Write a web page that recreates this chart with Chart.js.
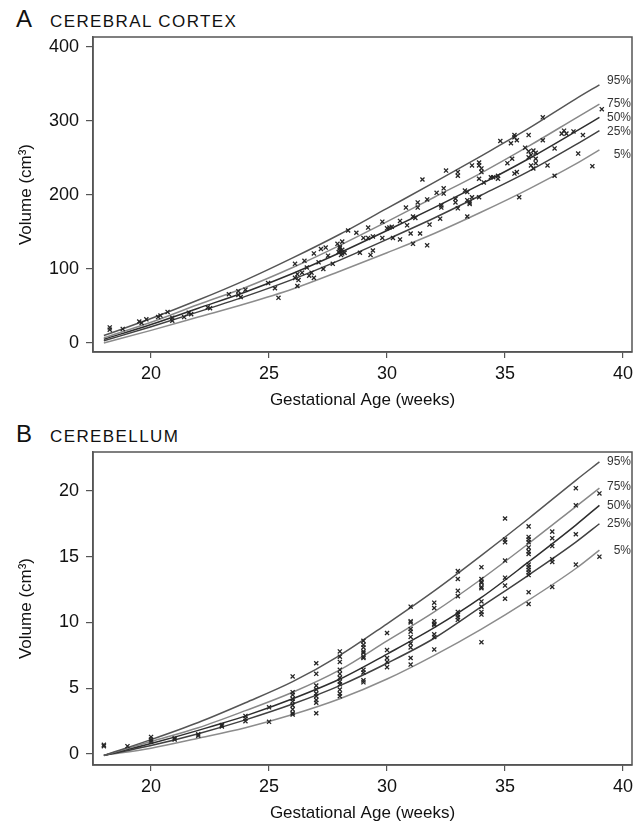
<!DOCTYPE html>
<html>
<head>
<meta charset="utf-8">
<script src="https://cdn.jsdelivr.net/npm/chart.js@4.4.1/dist/chart.umd.min.js"></script>
<style>
  html, body { margin: 0; padding: 0; background: #fff; }
  body { width: 642px; height: 825px; position: relative; overflow: hidden; font-family: "Liberation Sans", Arial, sans-serif; color: #111; }
  canvas { position: absolute; left: 0; }
  .lbl { position: absolute; white-space: nowrap; line-height: 1; }
  .big { font-size: 24px; }
  .sub { font-size: 17px; letter-spacing: 1.4px; }
</style>
</head>
<body>
<div class="lbl big" style="left:16px;top:7px;">A</div>
<div class="lbl sub" style="left:50px;top:13px;">CEREBRAL CORTEX</div>
<canvas id="cA" width="642" height="412" style="top:0"></canvas>
<div class="lbl big" style="left:16px;top:422px;">B</div>
<div class="lbl sub" style="left:50px;top:428px;">CEREBELLUM</div>
<canvas id="cB" width="642" height="413" style="top:412px"></canvas>
<script>
// ---------- shared ----------
const xTicks = [20, 25, 30, 35, 40];
const curveWeeks = [18, 20, 22, 24, 26, 28, 30, 32, 34, 36, 38, 39];
const pctNames = ["95%", "75%", "50%", "25%", "5%"];

// ---------- Panel A: cerebral cortex ----------
const yTicksA = [0, 100, 200, 300, 400];
const cortexP95 = [10, 33, 58, 85, 115, 147, 182, 217, 253, 290, 330, 349];
const cortexP75 = [7, 28, 52, 75, 102, 132, 164, 197, 230, 266, 304, 323];
const cortexP50 = [5, 25, 47, 69, 94, 122, 152, 183, 215, 249, 286, 305];
const cortexP25 = [3, 22, 42, 63, 86, 112, 140, 169, 200, 232, 268, 287];
const cortexP5  = [0, 17, 35, 53, 73, 97, 122, 148, 177, 208, 242, 261];
const cortexLabelY = [355, 324, 305, 285, 255];
const cortexWeeks = [
  18.25, 18.25, 18.8, 19.5, 19.6, 19.8, 20.3, 20.4, 20.7, 20.9, 20.9, 21.4, 21.6, 21.7, 22.4, 22.5,
  23.3, 23.7, 23.7, 23.8, 24.0, 24.96, 25.25, 25.4, 26.1, 26.1, 26.2, 26.2, 26.25, 26.4, 26.5, 26.6,
  26.7, 26.8, 26.9, 26.9, 27.1, 27.2, 27.4, 27.3, 27.5, 27.7, 27.9, 28.0, 28.0, 28.1, 28.0, 28.1,
  28.2, 27.95, 28.05, 28.1, 28.35, 28.7, 28.85, 29.0, 29.2, 29.4, 29.2, 29.3, 29.4, 29.8, 29.8, 30.0,
  30.1, 30.2, 30.25, 30.55, 30.55, 30.8, 30.85, 31.0, 31.1, 31.2, 31.1, 31.3, 31.3, 31.4, 31.5, 31.7,
  31.7, 31.8, 32.1, 32.25, 32.4, 32.4, 32.3, 32.3, 32.5, 33.0, 33.0, 32.9, 32.9, 33.0, 33.3, 33.4,
  33.4, 33.5, 33.5, 33.4, 33.6, 33.6, 33.9, 33.9, 33.9, 34.1, 34.0, 34.0, 33.9, 34.4, 34.5, 34.7,
  34.7, 34.8, 35.1, 35.3, 35.4, 35.4, 35.25, 35.5, 35.4, 35.5, 35.6, 35.85, 36.0, 36.0, 36.1, 36.2,
  36.3, 36.0, 36.1, 36.2, 36.3, 36.3, 36.6, 36.6, 36.8, 37.1, 37.1, 37.4, 37.5, 37.6, 37.9, 38.1,
  38.3, 38.7, 39.1
];
const cortexVolumes = [
  21, 18, 19, 29, 27, 32, 35, 37, 42, 34, 30, 35, 41, 39, 48, 47,
  66, 70, 65, 62, 72, 81, 74, 61, 107, 88, 93, 77, 85, 95, 111, 102,
  91, 95, 121, 88, 109, 127, 129, 100, 118, 107, 134, 125, 130, 137, 128, 121,
  122, 123, 119, 126, 152, 149, 122, 142, 142, 144, 156, 119, 125, 164, 142, 155,
  156, 157, 142, 165, 140, 183, 159, 148, 171, 169, 134, 190, 183, 148, 221, 194,
  132, 160, 203, 168, 209, 202, 186, 183, 233, 231, 226, 195, 190, 182, 206, 204,
  193, 190, 188, 171, 240, 197, 244, 240, 222, 217, 236, 231, 197, 224, 224, 226,
  222, 273, 243, 249, 281, 278, 270, 274, 229, 231, 197, 264, 259, 251, 254, 260,
  257, 281, 240, 236, 249, 243, 305, 274, 240, 263, 226, 283, 287, 283, 286, 256,
  281, 239, 316
];

// ---------- Panel B: cerebellum ----------
const yTicksB = [0, 5, 10, 15, 20];
const cerebP95 = [-0.1, 1.1, 2.4, 3.9, 5.5, 7.5, 9.9, 12.4, 15.1, 17.9, 20.8, 22.2];
const cerebP75 = [-0.1, 0.95, 2.0, 3.3, 4.7, 6.4, 8.6, 10.8, 13.3, 16.0, 18.8, 20.2];
const cerebP50 = [-0.1, 0.8, 1.8, 2.9, 4.2, 5.7, 7.6, 9.6, 11.9, 14.6, 17.4, 18.9];
const cerebP25 = [-0.1, 0.65, 1.55, 2.6, 3.8, 5.2, 6.9, 8.8, 11.2, 13.6, 16.1, 17.5];
const cerebP5  = [-0.1, 0.45, 1.2, 2.0, 3.0, 4.2, 5.7, 7.5, 9.5, 11.7, 14.1, 15.5];
const cerebLabelY = [22.2, 20.3, 18.9, 17.5, 15.45];
const cerebWeeks = [
  18, 18, 19, 20, 20, 20, 21, 21, 22, 22, 23, 23, 24, 24, 24, 25, 25,
  26, 26, 26, 26, 26, 26, 26, 26, 26,
  27, 27, 27, 27, 27, 27, 27, 27, 27,
  28, 28, 28, 28, 28, 28, 28, 28, 28, 28, 28,
  29, 29, 29, 29, 29, 29, 29, 29, 29, 29, 29,
  30, 30, 30, 30, 30,
  31, 31, 31, 31, 31, 31, 31, 31, 31, 31,
  32, 32, 32, 32, 32, 32, 32, 32,
  33, 33, 33, 33, 33, 33, 33, 33,
  34, 34, 34, 34, 34, 34, 34, 34, 34, 34, 34,
  35, 35, 35, 35, 35, 35, 35,
  36, 36, 36, 36, 36, 36, 36, 36, 36, 36, 36, 36, 36, 36,
  37, 37, 37, 37, 37, 37,
  38, 38, 38, 38,
  39, 39
];
const cerebVolumes = [
  0.7, 0.6, 0.6, 1.3, 1.1, 0.95, 1.2, 1.1, 1.5, 1.4, 2.2, 2.1, 2.9, 2.7, 2.5, 3.55, 2.45,
  5.9, 4.7, 4.5, 4.2, 4.0, 3.7, 3.4, 3.1, 3.0,
  6.9, 6.1, 5.2, 4.9, 4.6, 4.4, 4.1, 3.9, 3.1,
  7.8, 7.4, 7.0, 6.4, 6.1, 5.8, 5.5, 5.3, 4.9, 4.6, 4.4,
  8.6, 8.3, 8.1, 7.8, 7.7, 7.4, 7.3, 6.4, 6.2, 5.6, 5.45,
  9.2, 7.9, 7.3, 7.0, 6.6,
  11.2, 10.1, 10.0, 9.5, 9.3, 8.9, 8.4, 8.1, 7.3, 6.8,
  11.5, 11.1, 10.1, 9.9, 9.8, 9.1, 8.9, 7.95,
  13.9, 13.3, 12.4, 12.0, 10.8, 10.6, 10.4, 10.2,
  14.2, 13.3, 13.1, 13.0, 12.7, 12.6, 11.6, 11.2, 10.8, 10.6, 8.5,
  17.9, 16.3, 16.1, 14.7, 13.4, 12.8, 11.8,
  17.3, 16.5, 16.3, 16.1, 15.7, 15.4, 15.2, 14.4, 14.2, 14.0, 13.8, 13.6, 12.3, 11.4,
  16.9, 16.4, 15.8, 14.8, 14.6, 12.7,
  20.2, 18.9, 16.7, 14.4,
  19.8, 15.0
];

// ---------- builder ----------
const FONT = "'Liberation Sans', Arial, Helvetica, sans-serif";
const lineColors = ["#555555", "#888888", "#2e2e2e", "#404040", "#8c8c8c"];

function buildChart(id, curves, weeks, vols, yTicks, yMin, yMax, labelY, topPad) {
  const datasets = curves.map((c, i) => ({
    type: 'scatter',
    label: pctNames[i],
    data: curveWeeks.map((w, k) => ({ x: w, y: c[k] })),
    showLine: true,
    borderColor: lineColors[i],
    borderWidth: 1.5,
    pointRadius: 0,
    cubicInterpolationMode: 'monotone',
    fill: false,
    order: 2
  }));
  datasets.push({
    type: 'scatter',
    label: 'data',
    data: weeks.map((w, k) => ({ x: w, y: vols[k] })),
    pointStyle: 'crossRot',
    pointRadius: 2.9,
    borderColor: '#262626',
    borderWidth: 1.3,
    backgroundColor: '#262626',
    order: 1
  });
  const frame = {
    id: 'frame',
    afterDraw(chart) {
      const { ctx, chartArea: a } = chart;
      ctx.save();
      ctx.strokeStyle = '#555';
      ctx.lineWidth = 1.5;
      ctx.strokeRect(a.left, a.top, a.right - a.left, a.bottom - a.top);
      ctx.font = '12px ' + FONT;
      ctx.fillStyle = '#333';
      ctx.textAlign = 'right';
      ctx.textBaseline = 'middle';
      const ys = chart.scales.y;
      labelY.forEach((v, i) => ctx.fillText(pctNames[i], a.right - 1, ys.getPixelForValue(v)));
      ctx.restore();
    }
  };
  return new Chart(document.getElementById(id), {
    type: 'scatter',
    data: { datasets },
    plugins: [frame],
    options: {
      responsive: false,
      animation: false,
      devicePixelRatio: 1,
      layout: { padding: { left: 0, right: 10, top: topPad, bottom: 0 } },
      plugins: { legend: { display: false }, tooltip: { enabled: false } },
      scales: {
        x: {
          type: 'linear', min: 17.54, max: 40.38,
          afterBuildTicks: s => { s.ticks = xTicks.map(v => ({ value: v })); },
          afterFit: s => { s.height = 60; },
          grid: { display: true, drawOnChartArea: false, drawTicks: true, tickLength: 6, color: '#555', lineWidth: 1.2 },
          border: { display: true, color: '#555', width: 1.5 },
          ticks: { font: { size: 18, family: FONT }, color: '#111', padding: 5, maxRotation: 0, autoSkip: false },
          title: { display: true, text: 'Gestational Age (weeks)', color: '#111', font: { size: 17, family: FONT }, padding: { top: 0, bottom: 1 } }
        },
        y: {
          type: 'linear', min: yMin, max: yMax,
          afterBuildTicks: s => { s.ticks = yTicks.map(v => ({ value: v })); },
          afterFit: s => { s.width = 93; },
          grid: { display: true, drawOnChartArea: false, drawTicks: true, tickLength: 7, color: '#555', lineWidth: 1.2 },
          border: { display: true, color: '#555', width: 1.5 },
          ticks: { font: { size: 18, family: FONT }, color: '#111', padding: 7, autoSkip: false },
          title: { display: true, text: 'Volume (cm³)', color: '#111', font: { size: 17, family: FONT }, padding: { top: 16, bottom: 0 } }
        }
      }
    }
  });
}

buildChart('cA', [cortexP95, cortexP75, cortexP50, cortexP25, cortexP5], cortexWeeks, cortexVolumes, yTicksA, -12.2, 413.6, cortexLabelY, 37);
buildChart('cB', [cerebP95, cerebP75, cerebP50, cerebP25, cerebP5], cerebWeeks, cerebVolumes, yTicksB, -0.83, 22.95, cerebLabelY, 40);
</script>
</body>
</html>
